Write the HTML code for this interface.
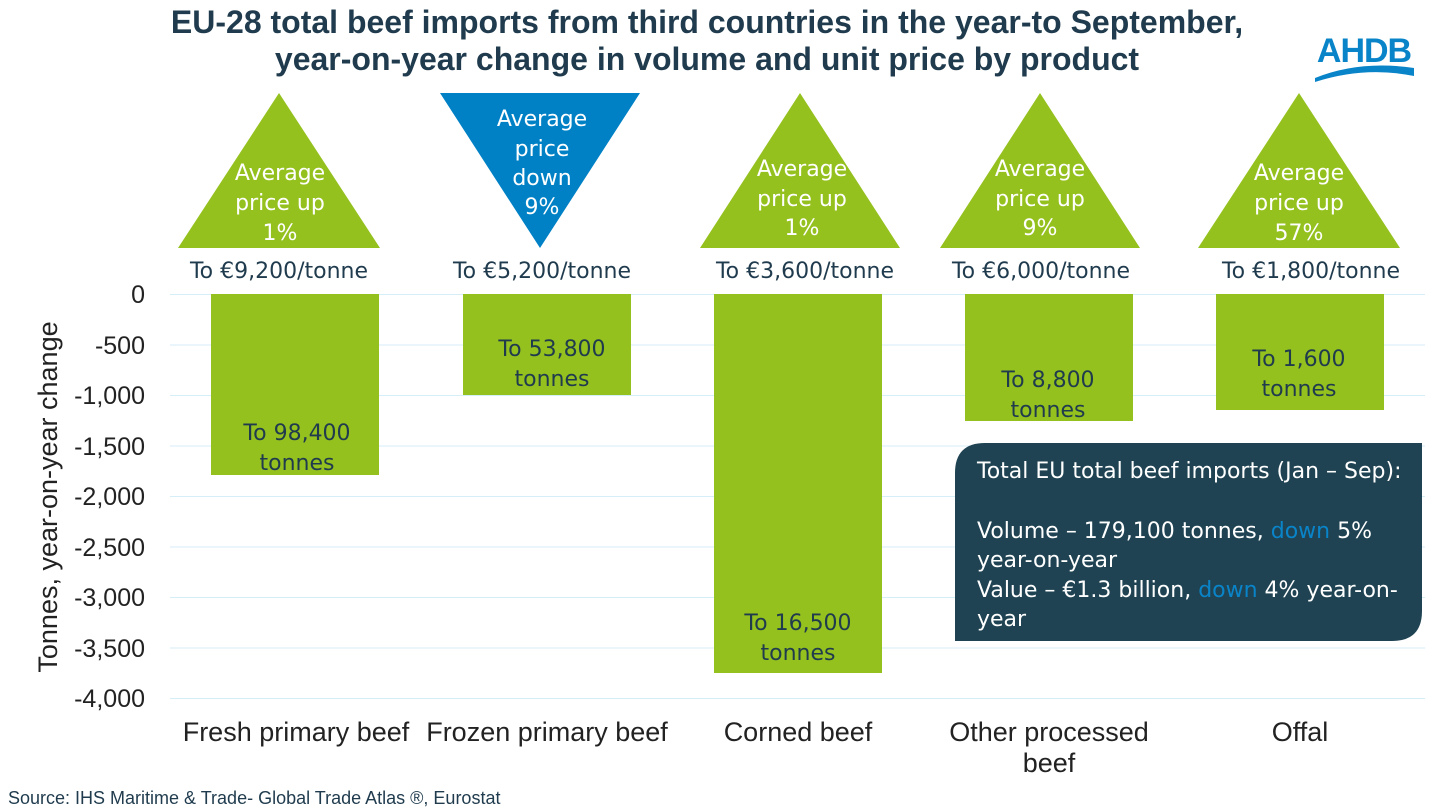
<!DOCTYPE html>
<html><head><meta charset="utf-8"><style>
body{margin:0;background:#fff;}
svg{display:block;font-family:"Liberation Sans",sans-serif;}
.lb{font-family:"DejaVu Sans","Liberation Sans",sans-serif;font-size:22px;fill:#1F3B4D;}
.tl{font-family:"DejaVu Sans","Liberation Sans",sans-serif;font-size:22px;fill:#fff;}
.tk{font-size:25px;fill:#222;}
.cat{font-size:27px;fill:#222;}
</style></head><body>
<svg width="1444" height="812" viewBox="0 0 1444 812">
<text x="707" y="33" text-anchor="middle" font-weight="bold" font-size="32" fill="#1F3B4D">EU-28 total beef imports from third countries in the year-to September,</text>
<text x="707" y="70" text-anchor="middle" font-weight="bold" font-size="32" fill="#1F3B4D">year-on-year change in volume and unit price by product</text>
<text x="1364" y="62" text-anchor="middle" font-size="34" font-weight="bold" fill="#0A84C9" letter-spacing="-1">AHDB</text>
<path d="M1315 78 Q1360 60 1414 68 L1414 76 Q1365 66 1315 82Z" fill="#0A84C9"/>
<g stroke="#D5EEF8" stroke-width="1">
<line x1="170" x2="1425" y1="294.5" y2="294.5"/><line x1="170" x2="1425" y1="345" y2="345"/><line x1="170" x2="1425" y1="395.5" y2="395.5"/><line x1="170" x2="1425" y1="446" y2="446"/><line x1="170" x2="1425" y1="496.5" y2="496.5"/><line x1="170" x2="1425" y1="547" y2="547"/><line x1="170" x2="1425" y1="597.5" y2="597.5"/><line x1="170" x2="1425" y1="648" y2="648"/><line x1="170" x2="1425" y1="698.5" y2="698.5"/>
</g>
<g class="tk" text-anchor="end">
<text x="145" y="303">0</text><text x="145" y="354">-500</text><text x="145" y="404">-1,000</text><text x="145" y="455">-1,500</text><text x="145" y="505">-2,000</text><text x="145" y="556">-2,500</text><text x="145" y="606">-3,000</text><text x="145" y="657">-3,500</text><text x="145" y="707">-4,000</text>
</g>
<text transform="translate(57,497) rotate(-90)" text-anchor="middle" font-size="27" fill="#222">Tonnes, year-on-year change</text>
<g fill="#95C11F">
<rect x="211" y="294" width="168" height="181"/>
<rect x="463" y="294" width="168" height="101"/>
<rect x="714" y="294" width="168" height="379"/>
<rect x="965" y="294" width="168" height="127"/>
<rect x="1216" y="294" width="168" height="116"/>
<polygon points="178,248 380,248 279,93"/>
<polygon points="700,248 900,248 800,93"/>
<polygon points="940,248 1140,248 1040,93"/>
<polygon points="1198,248 1400,248 1299,93"/>
</g>
<polygon points="440,93 640,93 540,248" fill="#0081C6"/>
<g class="tl" text-anchor="middle">
<text x="280" y="180">Average</text><text x="280" y="210">price up</text><text x="280" y="240">1%</text>
<text x="542" y="126">Average</text><text x="542" y="156">price</text><text x="542" y="185">down</text><text x="542" y="214">9%</text>
<text x="802" y="176">Average</text><text x="802" y="206">price up</text><text x="802" y="235">1%</text>
<text x="1040" y="176">Average</text><text x="1040" y="206">price up</text><text x="1040" y="235">9%</text>
<text x="1299" y="180">Average</text><text x="1299" y="210">price up</text><text x="1299" y="240">57%</text>
</g>
<g class="lb" text-anchor="middle">
<text x="279" y="278">To €9,200/tonne</text><text x="542" y="278">To €5,200/tonne</text><text x="805" y="278">To €3,600/tonne</text><text x="1041" y="278">To €6,000/tonne</text><text x="1311" y="278">To €1,800/tonne</text>
<text x="297" y="440">To 98,400</text><text x="297" y="470">tonnes</text>
<text x="552" y="356">To 53,800</text><text x="552" y="386">tonnes</text>
<text x="798" y="630">To 16,500</text><text x="798" y="660">tonnes</text>
<text x="1048" y="387">To 8,800</text><text x="1048" y="417">tonnes</text>
<text x="1299" y="366">To 1,600</text><text x="1299" y="396">tonnes</text>
</g>
<path d="M985 443 H1422 V611 Q1422 641 1392 641 H955 V473 Q955 443 985 443Z" fill="#1F4352"/>
<g class="tl">
<text x="977" y="478">Total EU total beef imports (Jan – Sep):</text>
<text x="977" y="538">Volume – 179,100 tonnes, <tspan fill="#0A84C9">down</tspan> 5%</text>
<text x="977" y="567">year-on-year</text>
<text x="977" y="597">Value – €1.3 billion, <tspan fill="#0A84C9">down</tspan> 4% year-on-</text>
<text x="977" y="626">year</text>
</g>
<g class="cat" text-anchor="middle">
<text x="296" y="741">Fresh primary beef</text><text x="547" y="741">Frozen primary beef</text><text x="798" y="741">Corned beef</text><text x="1049" y="741">Other processed</text><text x="1049" y="772">beef</text><text x="1300" y="741">Offal</text>
</g>
<text x="8" y="804" font-size="18" fill="#1F3B4D">Source: IHS Maritime &amp; Trade- Global Trade Atlas ®, Eurostat</text>
</svg>
</body></html>
